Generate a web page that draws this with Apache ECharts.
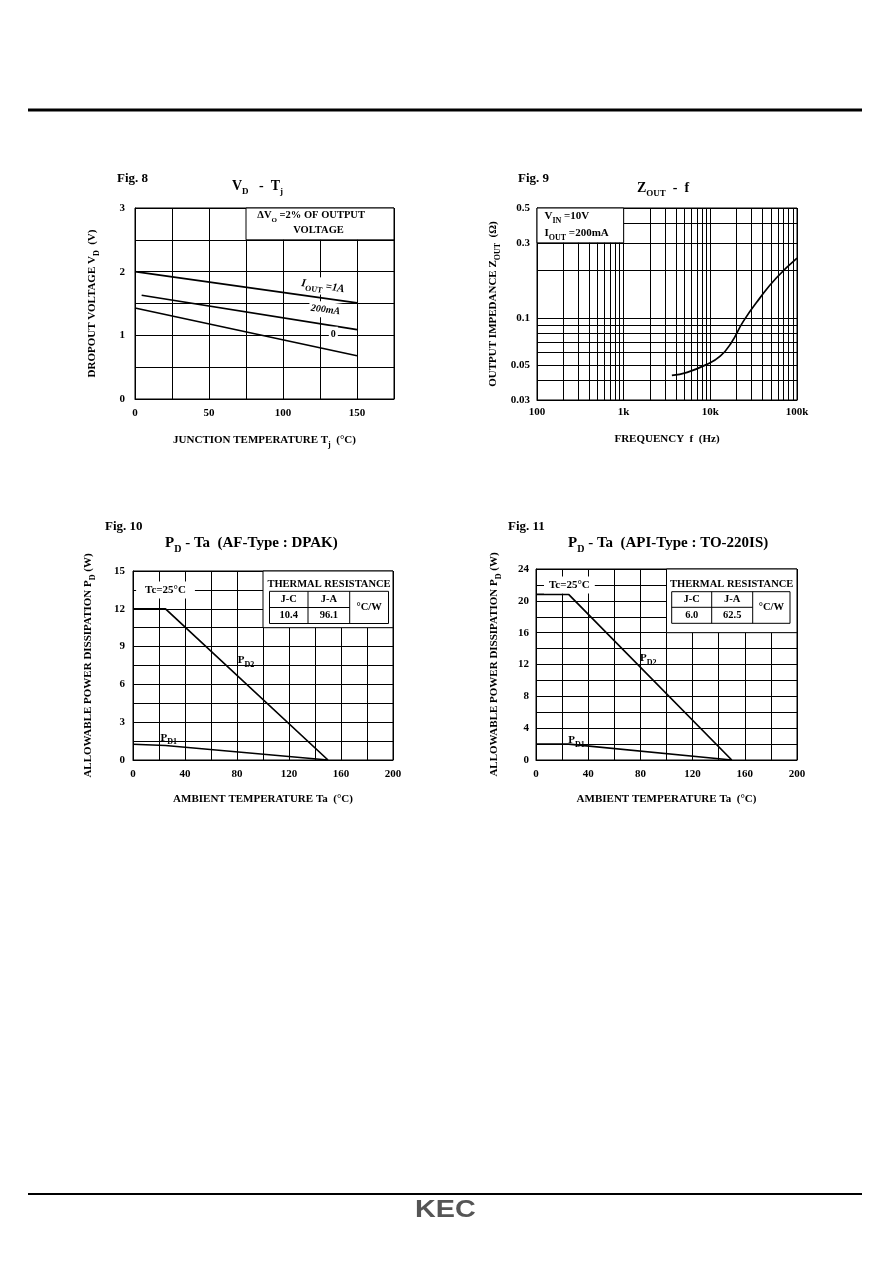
<!DOCTYPE html>
<html>
<head>
<meta charset="utf-8">
<script src="https://cdn.jsdelivr.net/npm/echarts@6/dist/echarts.min.js"></script>
<style>
  html, body { margin: 0; padding: 0; background: #fff; }
  #main { width: 892px; height: 1263px; }
</style>
</head>
<body>
<div id="main"></div>
<script>
// Fig. 8  VD - Tj
var vd1A = [[0, 2.0], [150, 1.51]];
var vd200mA = [[4.5, 1.63], [150, 1.09]];
var vd0 = [[0, 1.43], [150, 0.68]];

// Fig. 9  Zout - f
var freqGrid = [100, 200, 300, 400, 500, 600, 700, 800, 900,
  1000, 2000, 3000, 4000, 5000, 6000, 7000, 8000, 9000,
  10000, 20000, 30000, 40000, 50000, 60000, 70000, 80000, 90000, 100000];
var freqTicks = [100, 1000, 10000, 100000];
var freqTickNames = ['100', '1k', '10k', '100k'];
var zGrid = [0.03, 0.04, 0.05, 0.06, 0.07, 0.08, 0.09, 0.1, 0.2, 0.3, 0.4, 0.5];
var zTicks = [0.03, 0.05, 0.1, 0.3, 0.5];
var zFreq = [3600, 5400, 8700, 13000, 17600, 24000, 37000, 58000, 100000];
var zOut = [0.043, 0.045, 0.050, 0.057, 0.070, 0.095, 0.133, 0.18, 0.24];

// Fig. 10  PD - Ta (DPAK)
var pd2Dpak = [[0, 12], [25, 12], [150, 0]];
var pd1Dpak = [[0, 1.25], [25, 1.15], [150, 0]];
var rthDpak = ['10.4', '96.1'];

// Fig. 11  PD - Ta (TO-220IS)
var pd2To220 = [[0, 20.8], [25, 20.8], [150, 0]];
var pd1To220 = [[0, 2.0], [25, 2.0], [150, 0]];
var rthTo220 = ['6.0', '62.5'];

var FONT = '"Liberation Serif", "Times New Roman", serif';

function rich(size, sub) {
  return {
    m: { fontFamily: FONT, fontSize: size, fontWeight: 'bold', color: '#000', lineHeight: size + 6, verticalAlign: 'middle' },
    i: { fontFamily: FONT, fontSize: size, fontWeight: 'bold', fontStyle: 'italic', color: '#000', lineHeight: size + 6, verticalAlign: 'middle' },
    s: { fontFamily: FONT, fontSize: sub, fontWeight: 'bold', color: '#000', lineHeight: sub + 2, verticalAlign: 'bottom' }
  };
}

var LINE = { color: '#000', width: 1 };
var LABEL = { fontFamily: FONT, fontSize: 11, fontWeight: 'bold', color: '#000' };

function axisBase(grid, name, gap) {
  return {
    gridIndex: grid,
    axisLine: { show: true, lineStyle: LINE },
    axisTick: { show: false },
    splitLine: { show: true, lineStyle: LINE },
    name: name,
    nameGap: gap,
    nameLocation: 'middle',
    nameTextStyle: { rich: rich(11, 8) }
  };
}

function linAxis(grid, min, max, step, every, margin, name, gap) {
  var a = axisBase(grid, name, gap);
  a.type = 'value';
  a.min = min;
  a.max = max;
  a.interval = step;
  a.axisLabel = Object.assign({ margin: margin, showMaxLabel: true }, LABEL, {
    formatter: function (v) {
      var r = Math.round(v * 100), e = Math.round(every * 100);
      return r % e === 0 ? String(Math.round(v * 100) / 100) : '';
    }
  });
  return a;
}

function logAxis(grid, min, max, gridVals, labelVals, fmt, margin, name, gap) {
  var a = axisBase(grid, name, gap);
  a.type = 'log';
  a.logBase = 10;
  a.min = min;
  a.max = max;
  a.axisTick = { show: false, customValues: gridVals };
  a.axisLabel = Object.assign({ margin: margin, customValues: labelVals, formatter: fmt }, LABEL);
  return a;
}

function curve(data, xi, extra) {
  return Object.assign({
    type: 'line', xAxisIndex: xi, yAxisIndex: xi, data: data,
    showSymbol: false, symbol: 'none', smooth: false, silent: true, z: 3,
    lineStyle: { color: '#000', width: 1.7 }
  }, extra || {});
}

function tag(x, y, text, opt) {
  opt = opt || {};
  return {
    coord: [x, y], symbol: 'rect', symbolSize: 1, itemStyle: { color: 'rgba(0,0,0,0)' },
    label: {
      show: true, position: 'inside', rotate: opt.rotate || 0,
      backgroundColor: opt.bg || 'transparent', padding: opt.pad || 0,
      rich: rich(opt.size || 11, opt.sub || 8),
      formatter: function () { return text; }
    }
  };
}

function marks(tags) {
  return { silent: true, animation: false, data: tags };
}

function box(x0, y0, x1, y1, label) {
  return {
    silent: true, animation: false,
    itemStyle: { color: '#fff', borderColor: '#000', borderWidth: 1, opacity: 1 },
    label: label || { show: false },
    data: [[{ coord: [x0, y0] }, { coord: [x1, y1] }]]
  };
}

function thermalTable(cx, hy, x0, x1, y0, y1, ym, c1, c2, vals) {
  var txt = function (x, y, t) {
    return { type: 'text', x: x, y: y, z: 100,
      style: { text: t, font: 'bold 10.5px ' + FONT, fill: '#000', align: 'center', verticalAlign: 'middle' } };
  };
  var ln = function (ax, ay, bx, by) {
    return { type: 'line', z: 100, shape: { x1: ax, y1: ay, x2: bx, y2: by }, style: { stroke: '#000', lineWidth: 1 } };
  };
  return [
    txt(cx, hy, 'THERMAL RESISTANCE'),
    { type: 'rect', z: 99, shape: { x: x0, y: y0, width: x1 - x0, height: y1 - y0 }, style: { fill: '#fff', stroke: '#000', lineWidth: 1 } },
    ln(x0, ym, c2, ym), ln(c1, y0, c1, y1), ln(c2, y0, c2, y1),
    txt((x0 + c1) / 2, (y0 + ym) / 2, 'J-C'),
    txt((c1 + c2) / 2, (y0 + ym) / 2, 'J-A'),
    txt((x0 + c1) / 2, (ym + y1) / 2, vals[0]),
    txt((c1 + c2) / 2, (ym + y1) / 2, vals[1]),
    txt((c2 + x1) / 2, (y0 + y1) / 2, '\u00b0C/W')
  ];
}

function title(x, y, text, size, sub) {
  return { left: x, top: y, padding: 0, text: text, textStyle: { rich: rich(size, sub) } };
}

var freqFmt = function (v) {
  var i = freqTicks.indexOf(Math.round(v));
  return i >= 0 ? freqTickNames[i] : '';
};
var zFmt = function (v) { return String(parseFloat(v.toPrecision(4))); };

var option = {
  animation: false,
  backgroundColor: '#fff',
  title: [
    title(117, 169, '{m|Fig. 8}', 13, 9),
    title(232, 176, '{m|V}{s|D}{m|   -  T}{s|j}', 14, 9),
    title(518, 169, '{m|Fig. 9}', 13, 9),
    title(637, 178, '{m|Z}{s|OUT}{m|  -  f}', 14, 9),
    title(105, 517, '{m|Fig. 10}', 13, 9),
    title(165, 533, '{m|P}{s|D}{m| - Ta  (AF-Type : DPAK)}', 15, 10),
    title(508, 517, '{m|Fig. 11}', 13, 9),
    title(568, 533, '{m|P}{s|D}{m| - Ta  (API-Type : TO-220IS)}', 15, 10)
  ],
  grid: [
    { left: 135, top: 208, width: 259, height: 191 },
    { left: 537, top: 208, width: 260, height: 192 },
    { left: 133, top: 571, width: 260, height: 189 },
    { left: 536, top: 569, width: 261, height: 191 }
  ].map(function (g) {
    return Object.assign({ show: true, borderColor: '#000', borderWidth: 1, backgroundColor: '#fff', containLabel: false, outerBoundsMode: 'none' }, g);
  }),
  xAxis: [
    linAxis(0, 0, 175, 25, 50, 9, '{m|JUNCTION TEMPERATURE T}{s|j}{m|  (\u00b0C)}', 33),
    logAxis(1, 100, 100000, freqGrid, freqTicks, freqFmt, 7, '{m|FREQUENCY  f  (Hz)}', 31),
    linAxis(2, 0, 200, 20, 40, 9, '{m|AMBIENT TEMPERATURE Ta  (\u00b0C)}', 31),
    linAxis(3, 0, 200, 20, 40, 9, '{m|AMBIENT TEMPERATURE Ta  (\u00b0C)}', 31)
  ],
  yAxis: [
    linAxis(0, 0, 3, 0.5, 1, 10, '{m|DROPOUT VOLTAGE V}{s|D}{m|  (V)}', 34),
    logAxis(1, 0.03, 0.5, zGrid, zTicks, zFmt, 7, '{m|OUTPUT IMPEDANCE Z}{s|OUT}{m|  (\u03a9)}', 35),
    linAxis(2, 0, 15, 1.5, 3, 8, '{m|ALLOWABLE POWER DISSIPATION P}{s|D}{m| (W)}', 36),
    linAxis(3, 0, 24, 2, 4, 7, '{m|ALLOWABLE POWER DISSIPATION P}{s|D}{m| (W)}', 33)
  ],
  series: [
    curve(vd1A, 0, {
      markArea: box(75, 2.5, 175, 3),
      markPoint: marks([
        tag(119, 2.88, '{m|\u0394V}{s|O}{m| =2% OF OUTPUT}', { size: 10.5, sub: 7 }),
        tag(124, 2.65, '{m|VOLTAGE}', { size: 10.5 }),
        tag(127, 1.77, '{i|I}{s|OUT}{i| =1A}', { rotate: -8, bg: '#fff', pad: [0, 2] })
      ])
    }),
    curve(vd200mA, 0, {
      markPoint: marks([tag(128.7, 1.40, '{i|200mA}', { size: 10, rotate: -7, bg: '#fff', pad: [0, 2] })])
    }),
    curve(vd0, 0, {
      markPoint: marks([tag(134, 1.01, '{m|0}', { size: 10, bg: '#fff', pad: [0, 2] })])
    }),
    curve(zFreq.map(function (f, i) { return [f, zOut[i]]; }), 1, {
      smooth: true,
      markArea: box(100, 0.3, 1000, 0.5, {
        show: true, position: 'insideTopLeft', distance: 0, padding: [0, 0, 0, 8],
        rich: rich(11, 8),
        formatter: function () { return '{m|V}{s|IN}{m| =10V}\n{m|I}{s|OUT}{m| =200mA}'; }
      })
    }),
    curve(pd2Dpak, 2, {
      markArea: box(100, 10.5, 200, 15),
      markPoint: marks([
        tag(25, 13.5, '{m|Tc=25\u00b0C}', { bg: '#fff', pad: [0, 9] }),
        tag(87, 7.9, '{m|P}{s|D2}')
      ])
    }),
    curve(pd1Dpak, 2, { markPoint: marks([tag(27.5, 1.77, '{m|P}{s|D1}')]) }),
    curve(pd2To220, 3, {
      markArea: box(100, 16, 200, 24),
      markPoint: marks([
        tag(25.6, 22, '{m|Tc=25\u00b0C}', { bg: '#fff', pad: [0, 5] }),
        tag(86, 12.75, '{m|P}{s|D2}')
      ])
    }),
    curve(pd1To220, 3, { markPoint: marks([tag(31, 2.45, '{m|P}{s|D1}')]) })
  ],
  graphic: [
    { type: 'line', shape: { x1: 28, y1: 110, x2: 862, y2: 110 }, style: { stroke: '#000', lineWidth: 3 } },
    { type: 'line', shape: { x1: 28, y1: 1194, x2: 862, y2: 1194 }, style: { stroke: '#000', lineWidth: 2 } },
    { type: 'text', x: 415, y: 1199, scaleX: 1.25,
      style: { text: 'KEC', font: 'bold 23px "Liberation Sans", Arial, sans-serif', fill: '#555', verticalAlign: 'top' } }
  ]
    .concat(thermalTable(329, 584.3, 269.5, 388.5, 591.3, 623.5, 607.5, 308, 349.7, rthDpak))
    .concat(thermalTable(731.7, 584, 671.7, 790, 591.7, 623.3, 607.3, 711.7, 752.7, rthTo220))
};

var chart = echarts.init(document.getElementById('main'));
chart.setOption(option);
</script>
</body>
</html>
